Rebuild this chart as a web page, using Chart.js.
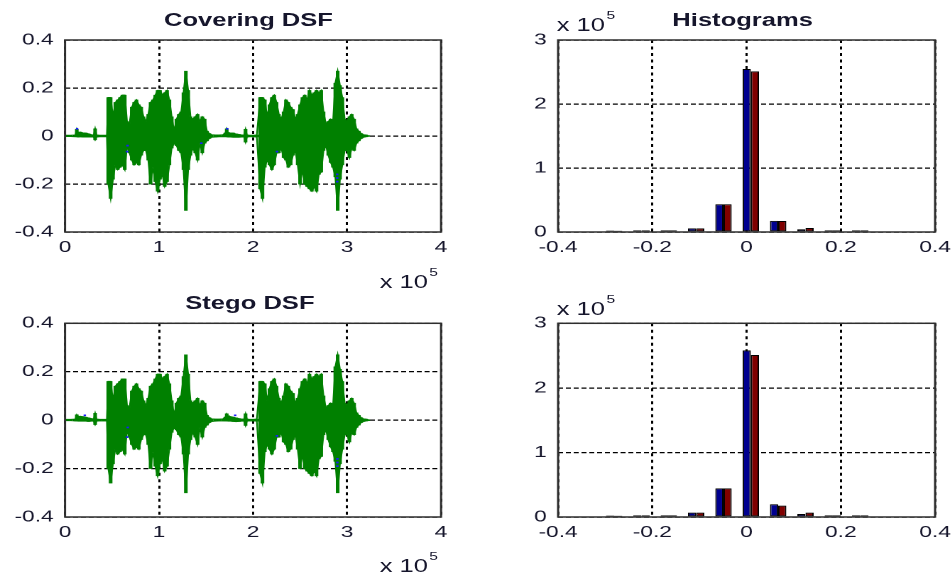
<!DOCTYPE html>
<html>
<head>
<meta charset="utf-8">
<title>Covering DSF / Stego DSF</title>
<script src="https://cdn.jsdelivr.net/npm/chart.js@4.4.1/dist/chart.umd.min.js"></script>
<style>
  html, body { margin:0; padding:0; background:#fff; overflow:hidden; }
  body { width:951px; height:575px; position:relative; }
  /* the original figure is stretched sideways, so the whole sheet is drawn narrow and widened */
  #fig { position:absolute; left:0; top:0; width:700px; height:575px; transform:scaleX(1.42); transform-origin:0 0;
         font-family:"Liberation Sans", Arial, sans-serif; color:#16162c; }
  .panel { position:absolute; }
  .ttl { position:absolute; width:240px; text-align:center; font-weight:bold; font-size:18px; line-height:18px; white-space:nowrap; }
  .mult { position:absolute; font-size:18px; line-height:18px; white-space:nowrap; }
  .mult span { font-size:11px; position:relative; top:-12.5px; margin-left:1px; }
</style>
</head>
<body>
<div id="fig">
  <div class="panel" style="left:0;top:0;width:330px;height:285px"><canvas id="coverWave"></canvas></div>
  <div class="panel" style="left:340px;top:0;width:350px;height:285px"><canvas id="coverHist"></canvas></div>
  <div class="panel" style="left:0;top:285px;width:330px;height:290px"><canvas id="stegoWave"></canvas></div>
  <div class="panel" style="left:340px;top:285px;width:350px;height:290px"><canvas id="stegoHist"></canvas></div>

  <div class="ttl" style="left:55px;top:10.5px">Covering DSF</div>
  <div class="ttl" style="left:403px;top:11px">Histograms</div>
  <div class="ttl" style="left:56px;top:293.5px">Stego DSF</div>

  <div class="mult" style="right:391.5px;top:273px">x 10<span>5</span></div>
  <div class="mult" style="right:391.5px;top:557px">x 10<span>5</span></div>
  <div class="mult" style="left:392px;top:16.2px">x 10<span>5</span></div>
  <div class="mult" style="left:392px;top:300.2px">x 10<span>5</span></div>
</div>

<script>
// ---- waveform envelopes: bin position (thousands of samples), upper and lower value per bin
const sampleK = [
  0, 6, 11, 12.5, 14, 16, 19, 22, 25, 28, 30.5, 32, 33.5, 37, 41, 44.5,
  46, 48.5, 51, 53.5, 56, 58.5, 61, 63.5, 66, 68.5, 71, 73.5, 76, 78.5, 81, 83.5, 86, 88.5, 91, 93.5,
  96, 98.5, 101, 103.5, 106, 108.5, 111, 113.5, 116, 118.5, 121, 123.5, 126, 128.5, 131, 133.5, 136, 138.5,
  141, 143.5, 146, 148.5, 151, 153.5,
  156, 160, 164, 168, 170.5, 172, 173.5, 176, 179, 182, 185, 188, 190.5, 192, 193.5, 196, 200, 204,
  207.5, 210, 212.5, 215, 217.5, 220, 222.5, 225, 227.5, 230, 232.5, 235, 237.5, 240, 242.5, 245, 247.5,
  250, 252.5, 255, 257.5, 260, 262.5, 265, 267.5, 270, 272.5, 275, 277.5, 280, 282.5, 285, 287.5, 290,
  292.5, 295, 297.5, 300, 302.5, 305, 307.5, 310, 312.5, 315, 317.5,
  320, 322.5
];

const coverHi = [
  0.003, 0.003, 0.004, 0.028, 0.012, 0.016, 0.013, 0.012, 0.009, 0.005, 0.004, 0.03, 0.004, 0.003, 0.003, 0.003,
  0.16, 0.16, 0.08, 0.14, 0.15, 0.16, 0.17, 0.17, 0.06, 0.05, 0.12, 0.14, 0.15, 0.13, 0.12, 0.08, 0.06, 0.09, 0.14, 0.15,
  0.17, 0.19, 0.19, 0.17, 0.18, 0.19, 0.15, 0.08, 0.02, 0.07, 0.09, 0.10, 0.18, 0.27, 0.19, 0.08, 0.07, 0.08,
  0.09, 0.06, 0.08, 0.07, 0.02, 0.01,
  0.005, 0.004, 0.004, 0.005, 0.012, 0.03, 0.014, 0.012, 0.012, 0.008, 0.006, 0.004, 0.004, 0.028, 0.004, 0.003, 0.003, 0.004,
  0.16, 0.16, 0.15, 0.08, 0.13, 0.16, 0.17, 0.14, 0.09, 0.07, 0.10, 0.15, 0.14, 0.12, 0.11, 0.07, 0.09,
  0.13, 0.16, 0.17, 0.15, 0.19, 0.17, 0.18, 0.19, 0.18, 0.19, 0.10, 0.05, 0.06, 0.07, 0.06, 0.22, 0.27,
  0.21, 0.16, 0.07, 0.06, 0.08, 0.09, 0.07, 0.03, 0.02, 0.01, 0.005,
  0.004, 0.002
];
const coverLo = [
  -0.002, -0.002, -0.003, -0.003, -0.004, -0.003, -0.004, -0.004, -0.004, -0.004, -0.004, -0.016, -0.004, -0.003, -0.003, -0.003,
  -0.20, -0.26, -0.18, -0.12, -0.14, -0.13, -0.12, -0.14, -0.04, -0.07, -0.10, -0.12, -0.11, -0.12, -0.08, -0.06, -0.06, -0.10, -0.20, -0.13,
  -0.19, -0.23, -0.18, -0.16, -0.21, -0.19, -0.12, -0.05, -0.03, -0.04, -0.06, -0.07, -0.14, -0.31, -0.14, -0.08, -0.05, -0.07,
  -0.10, -0.03, -0.07, -0.03, -0.02, -0.01,
  -0.005, -0.004, -0.003, -0.003, -0.003, -0.003, -0.004, -0.004, -0.005, -0.005, -0.005, -0.004, -0.004, -0.025, -0.004, -0.003, -0.003, -0.004,
  -0.22, -0.26, -0.13, -0.10, -0.12, -0.14, -0.12, -0.07, -0.07, -0.05, -0.09, -0.10, -0.13, -0.12, -0.08, -0.06, -0.12,
  -0.20, -0.14, -0.20, -0.21, -0.22, -0.23, -0.21, -0.23, -0.16, -0.15, -0.06, -0.04, -0.08, -0.11, -0.13, -0.17, -0.31,
  -0.18, -0.12, -0.06, -0.06, -0.09, -0.05, -0.06, -0.03, -0.02, -0.01, -0.005,
  -0.003, -0.002
];

const stegoHi = [
  0.003, 0.003, 0.004, 0.022, 0.014, 0.016, 0.014, 0.012, 0.009, 0.006, 0.004, 0.028, 0.004, 0.003, 0.003, 0.003,
  0.16, 0.16, 0.08, 0.14, 0.15, 0.16, 0.17, 0.17, 0.06, 0.05, 0.12, 0.14, 0.15, 0.13, 0.12, 0.08, 0.06, 0.09, 0.14, 0.15,
  0.17, 0.19, 0.19, 0.17, 0.18, 0.19, 0.15, 0.08, 0.02, 0.07, 0.09, 0.10, 0.18, 0.27, 0.19, 0.08, 0.07, 0.08,
  0.09, 0.06, 0.08, 0.07, 0.02, 0.01,
  0.005, 0.004, 0.004, 0.005, 0.012, 0.026, 0.018, 0.014, 0.012, 0.009, 0.006, 0.004, 0.004, 0.026, 0.004, 0.003, 0.003, 0.004,
  0.16, 0.16, 0.15, 0.08, 0.13, 0.16, 0.17, 0.14, 0.09, 0.07, 0.10, 0.15, 0.14, 0.12, 0.11, 0.07, 0.09,
  0.13, 0.16, 0.17, 0.15, 0.19, 0.17, 0.18, 0.19, 0.18, 0.19, 0.10, 0.05, 0.06, 0.07, 0.06, 0.22, 0.27,
  0.21, 0.16, 0.07, 0.06, 0.08, 0.09, 0.07, 0.03, 0.02, 0.01, 0.005,
  0.004, 0.002
];
const stegoLo = [
  -0.002, -0.002, -0.003, -0.003, -0.004, -0.004, -0.004, -0.004, -0.005, -0.004, -0.004, -0.018, -0.004, -0.003, -0.003, -0.003,
  -0.20, -0.26, -0.18, -0.12, -0.14, -0.13, -0.12, -0.14, -0.04, -0.07, -0.10, -0.12, -0.11, -0.12, -0.08, -0.06, -0.06, -0.10, -0.20, -0.13,
  -0.19, -0.23, -0.18, -0.16, -0.21, -0.19, -0.12, -0.05, -0.03, -0.04, -0.06, -0.07, -0.14, -0.30, -0.14, -0.08, -0.05, -0.07,
  -0.10, -0.03, -0.07, -0.03, -0.02, -0.01,
  -0.005, -0.004, -0.003, -0.003, -0.003, -0.003, -0.004, -0.004, -0.005, -0.006, -0.005, -0.004, -0.004, -0.022, -0.004, -0.003, -0.003, -0.004,
  -0.22, -0.26, -0.13, -0.10, -0.12, -0.14, -0.12, -0.07, -0.07, -0.05, -0.09, -0.10, -0.13, -0.12, -0.08, -0.06, -0.12,
  -0.20, -0.14, -0.20, -0.21, -0.22, -0.23, -0.21, -0.23, -0.16, -0.15, -0.06, -0.04, -0.08, -0.11, -0.13, -0.17, -0.30,
  -0.18, -0.12, -0.06, -0.06, -0.09, -0.05, -0.06, -0.03, -0.02, -0.01, -0.005,
  -0.003, -0.002
];

// blue samples peeking out from under the green trace
const coverSpeckK = [12.8, 66.5, 66, 145, 172.5, 225.5, 289.5, 289.5, 289.5];
const coverSpeckV = [0.03, -0.04, -0.065, -0.03, 0.03, -0.065, -0.16, -0.175, -0.19];
const stegoSpeckK = [21, 66.7, 66, 181, 225.5, 289.7, 289.7, 289.7];
const stegoSpeckV = [0.02, -0.03, -0.07, 0.02, -0.065, -0.16, -0.175, -0.19];

const waveXTicks = [0, 100, 200, 300, 400];
const waveXLabels = ['0', '1', '2', '3', '4'];
const waveYTicks = [-0.4, -0.2, 0, 0.2, 0.4];
const waveYLabels = ['-0.4', '-0.2', '0', '0.2', '0.4'];

// ---- histograms: 10 bins, counts
const binCenters = [-0.281, -0.223, -0.165, -0.107, -0.049, 0.009, 0.067, 0.125, 0.183, 0.241];
const coverHistBlue = [2200, 2500, 2500, 5700, 43300, 254600, 17400, 4200, 2500, 2500];
const coverHistRed  = [2000, 2500, 2500, 5700, 43300, 250900, 17200, 6300, 2500, 2500];
const stegoHistBlue = [2200, 2500, 2500, 6800, 44300, 258000, 19800, 4700, 2500, 2500];
const stegoHistRed  = [2000, 2500, 2500, 6800, 44300, 251000, 17700, 6800, 2500, 2500];

const histXTicks = [-0.4, -0.2, 0, 0.2, 0.4];
const histXLabels = ['-0.4', '-0.2', '0', '0.2', '0.4'];
const histYTicks = [0, 100000, 200000, 300000];
const histYLabels = ['0', '1', '2', '3'];

const TXT = '#16162c';
const GREEN = '#008000';
Chart.defaults.font.family = '"Liberation Sans", Arial, sans-serif';
Chart.defaults.font.size = 16;
Chart.defaults.color = TXT;

const pts = (xs, ys) => xs.map((x, i) => ({ x: x, y: ys[i] }));
const spans = (xs, lo, hi) => xs.map((x, i) => ({ x: x, y: [lo[i], hi[i]] }));

// matlab-style closed box round the plot area
const boxFrame = {
  id: 'boxFrame',
  afterDraw(chart) {
    const { ctx, chartArea: a } = chart;
    ctx.save();
    ctx.strokeStyle = '#2e2e2e';
    ctx.lineWidth = 1.5;
    ctx.strokeRect(a.left, a.top, a.right - a.left, a.bottom - a.top);
    ctx.restore();
  }
};

function axis(ticks, labels, min, max, fit, horizontal) {
  return {
    type: 'linear', min: min, max: max, offset: false,
    afterBuildTicks: s => { s.ticks = ticks.map(v => ({ value: v })); },
    afterFit: s => { if (horizontal) s.height = fit; else s.width = fit; },
    ticks: { autoSkip: false, maxRotation: 0, padding: horizontal ? 6 : 8, color: TXT,
             callback: (v, i) => labels[i] },
    grid: { color: '#000', lineWidth: horizontal ? 1.5 : 1.2, drawTicks: false, offset: false },
    border: { display: false, dash: horizontal ? [3, 3.5] : [3.5, 2] }
  };
}

function baseOptions(pad) {
  return {
    responsive: true, maintainAspectRatio: false, animation: false, devicePixelRatio: 2, events: [],
    layout: { padding: pad },
    plugins: { legend: { display: false }, tooltip: { enabled: false } }
  };
}

function waveChart(id, hi, lo, spK, spV, g) {
  const opts = baseOptions({ left: 0, top: g.top, right: g.right, bottom: 0 });
  opts.scales = {
    x: axis(waveXTicks, waveXLabels, 0, 400, g.xh, true),
    y: axis(waveYTicks, waveYLabels, -0.4, 0.4, g.yw, false)
  };
  return new Chart(document.getElementById(id), {
    type: 'line',
    data: { datasets: [
      { data: pts(spK, spV), showLine: false, pointRadius: 1.2, pointStyle: 'rect',
        backgroundColor: '#1a1aff', borderWidth: 0, order: -1 },
      { type: 'bar', data: spans(sampleK, lo, hi), backgroundColor: GREEN, borderWidth: 0,
        barThickness: 1.9, grouped: false },
      { data: pts(sampleK, hi), borderColor: GREEN, borderWidth: 1.1, pointRadius: 0, fill: false },
      { data: pts(sampleK, lo), borderColor: GREEN, borderWidth: 1.1, pointRadius: 0, fill: false }
    ]},
    options: opts,
    plugins: [boxFrame]
  });
}

function histChart(id, blue, red, g) {
  const opts = baseOptions({ left: 0, top: g.top, right: g.right, bottom: 0 });
  opts.scales = {
    x: axis(histXTicks, histXLabels, -0.4, 0.4, g.xh, true),
    y: axis(histYTicks, histYLabels, 0, 300000, g.yw, false)
  };
  const bar = { borderColor: '#000', borderWidth: 1, borderSkipped: false, barPercentage: 1, categoryPercentage: 0.6 };
  return new Chart(document.getElementById(id), {
    type: 'bar',
    data: { datasets: [
      Object.assign({ data: pts(binCenters, blue), backgroundColor: '#00008f' }, bar),
      Object.assign({ data: pts(binCenters, red), backgroundColor: '#800000' }, bar)
    ]},
    options: opts,
    plugins: [boxFrame]
  });
}

waveChart('coverWave', coverHi, coverLo, coverSpeckK, coverSpeckV, { top: 40, right: 19.4, xh: 53, yw: 45.8 });
histChart('coverHist', coverHistBlue, coverHistRed, { top: 40, right: 31.5, xh: 53, yw: 53 });
waveChart('stegoWave', stegoHi, stegoLo, stegoSpeckK, stegoSpeckV, { top: 38.3, right: 19.4, xh: 58, yw: 45.8 });
histChart('stegoHist', stegoHistBlue, stegoHistRed, { top: 38.3, right: 31.5, xh: 58, yw: 53 });
</script>
</body>
</html>
